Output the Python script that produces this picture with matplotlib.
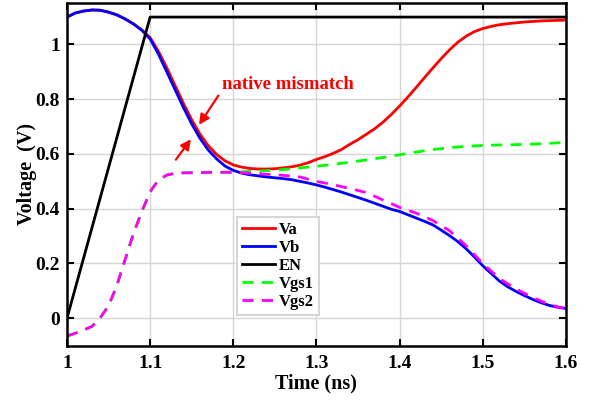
import numpy as np
import matplotlib
matplotlib.use("Agg")
import matplotlib.pyplot as plt

plt.rcParams["font.family"] = ["Liberation Serif", "DejaVu Serif"]
plt.rcParams["font.weight"] = "bold"

# Va / Vb (ns, V)
t_ab = [1.00, 1.01, 1.02, 1.03, 1.04, 1.05, 1.06, 1.07, 1.08, 1.09,
        1.10, 1.11, 1.12, 1.13, 1.14, 1.15, 1.16, 1.17, 1.18, 1.19,
        1.20, 1.21, 1.22, 1.23, 1.24, 1.25, 1.26, 1.27, 1.28, 1.29,
        1.30, 1.31, 1.32, 1.33, 1.34, 1.35, 1.36, 1.37, 1.38, 1.39,
        1.40, 1.41, 1.42, 1.43, 1.44, 1.45, 1.46, 1.47, 1.48, 1.49,
        1.50, 1.51, 1.52, 1.53, 1.54, 1.55, 1.56, 1.57, 1.58, 1.59, 1.60]
va = [1.100, 1.115, 1.122, 1.126, 1.125, 1.118, 1.108, 1.093, 1.075, 1.053,
      1.025, 0.975, 0.915, 0.850, 0.785, 0.725, 0.672, 0.630, 0.598, 0.575,
      0.560, 0.552, 0.547, 0.545, 0.545, 0.546, 0.549, 0.553, 0.559, 0.568,
      0.580, 0.590, 0.602, 0.616, 0.635, 0.652, 0.672, 0.692, 0.716, 0.744,
      0.775, 0.808, 0.843, 0.879, 0.914, 0.948, 0.980, 1.008, 1.030, 1.047,
      1.058, 1.066, 1.072, 1.076, 1.079, 1.082, 1.084, 1.086, 1.087, 1.088, 1.089]
vb = [1.100, 1.115, 1.122, 1.126, 1.125, 1.118, 1.108, 1.093, 1.075, 1.052,
      1.020, 0.965, 0.900, 0.835, 0.770, 0.710, 0.657, 0.614, 0.582, 0.556,
      0.540, 0.530, 0.524, 0.520, 0.516, 0.513, 0.510, 0.506, 0.500, 0.494,
      0.487, 0.479, 0.470, 0.461, 0.451, 0.441, 0.431, 0.420, 0.409, 0.398,
      0.390, 0.378, 0.366, 0.354, 0.341, 0.322, 0.302, 0.280, 0.254, 0.224,
      0.192, 0.164, 0.136, 0.115, 0.098, 0.083, 0.069, 0.057, 0.047, 0.040, 0.036]

# EN ramp
t_en = [1.0, 1.1, 1.6]
en = [0.0, 1.1, 1.1]

# Vgs2
t_g2 = [1.00, 1.01, 1.02, 1.03, 1.035, 1.04, 1.05, 1.06, 1.07, 1.08, 1.09,
        1.10, 1.11, 1.12, 1.13, 1.14, 1.16, 1.18, 1.20, 1.22, 1.24, 1.26,
        1.28, 1.30, 1.32, 1.34, 1.36, 1.38, 1.40, 1.42, 1.44, 1.46, 1.48,
        1.50, 1.52, 1.54, 1.56, 1.58, 1.60]
vgs2 = [-0.065, -0.055, -0.043, -0.030, -0.015, 0.002, 0.045, 0.120, 0.215, 0.310, 0.390,
        0.462, 0.505, 0.523, 0.529, 0.531, 0.532, 0.533, 0.533, 0.530, 0.526, 0.522,
        0.516, 0.500, 0.488, 0.474, 0.459, 0.432, 0.405, 0.384, 0.357, 0.320, 0.265,
        0.200, 0.145, 0.107, 0.076, 0.050, 0.034]

# Vgs1 (same as Vgs2 up to 1.2 ns)
t_g1 = t_g2[:19] + [1.22, 1.24, 1.26, 1.28, 1.30, 1.32, 1.34, 1.36, 1.38,
                    1.40, 1.42, 1.44, 1.46, 1.48, 1.50, 1.52, 1.54, 1.56, 1.58, 1.60]
vgs1 = vgs2[:19] + [0.536, 0.539, 0.543, 0.549, 0.555, 0.562, 0.570, 0.578, 0.587,
                    0.597, 0.607, 0.616, 0.623, 0.628, 0.631, 0.633, 0.634, 0.636, 0.639, 0.642]

fig = plt.figure(figsize=(5.96, 4.0), dpi=100)
ax = fig.add_axes([0.1124, 0.136, 0.837, 0.8555])

ax.plot(t_ab, va, color="#ff0000", lw=2, label="Va")
ax.plot(t_ab, vb, color="#0000ff", lw=2, label="Vb")
ax.plot(t_en, en, color="black", lw=2, label="EN")
ax.plot(t_g1, vgs1, color="#00ff00", lw=2, ls=(0, (4, 3)), label="Vgs1")
ax.plot(t_g2, vgs2, color="#ff00ff", lw=2, ls=(0, (4, 3)), label="Vgs2")

ax.set_xlim(1.0, 1.6)
ax.set_ylim(-0.1, 1.15)
ax.set_xticks([1, 1.1, 1.2, 1.3, 1.4, 1.5, 1.6])
ax.set_xticklabels(["1", "1.1", "1.2", "1.3", "1.4", "1.5", "1.6"])
ax.set_yticks([0, 0.2, 0.4, 0.6, 0.8, 1])
ax.set_yticklabels(["0", "0.2", "0.4", "0.6", "0.8", "1"])
ax.grid(True, color="#d6d6d6", lw=1)
ax.tick_params(direction="in", top=True, right=True, labelsize=14, width=1.5, length=5)
ax.tick_params(axis="x", pad=7)
ax.tick_params(axis="y", pad=5)
for s in ax.spines.values():
    s.set_linewidth(1.8)
ax.set_xlabel("Time (ns)", fontsize=14.5, fontweight="bold", labelpad=1)
ax.set_ylabel("Voltage  (V)", fontsize=14.5, fontweight="bold", labelpad=-1)

ax.annotate("", xy=(1.157, 0.698), xytext=(1.184, 0.822),
            arrowprops=dict(arrowstyle="-|>", color="red", lw=1.6, mutation_scale=15))
ax.annotate("", xy=(1.151, 0.662), xytext=(1.129, 0.571),
            arrowprops=dict(arrowstyle="-|>", color="red", lw=1.6, mutation_scale=15))
ax.text(1.266, 0.855, "native mismatch", color="red", fontsize=13.5, fontweight="bold",
        ha="center", va="center")

leg = ax.legend(loc="lower left", bbox_to_anchor=(0.34, 0.09), fontsize=12,
                handlelength=2.0, labelspacing=0.12, borderpad=0.3, handletextpad=0.25,
                fancybox=False, framealpha=1, edgecolor="#d6d6d6", borderaxespad=0)
leg.get_frame().set_linewidth(1.5)

fig.savefig("out.png", dpi=100)
